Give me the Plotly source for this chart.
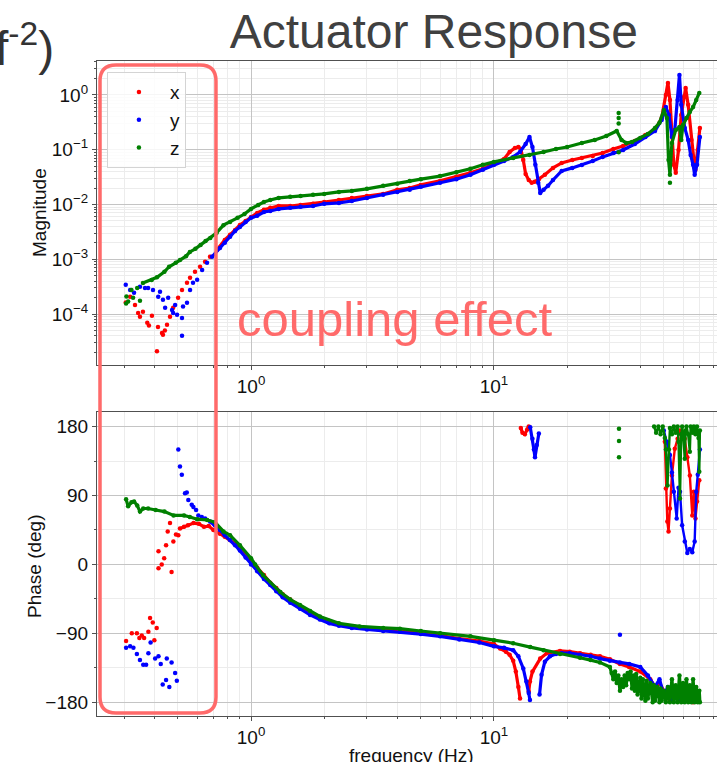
import plotly.graph_objects as go

# ---------------- magnitude: scattered low-frequency points ----------------
x_scatter_freq = [0.305, 0.318, 0.333, 0.343, 0.349, 0.359, 0.374, 0.380, 0.391, 0.410, 0.414,
                  0.430, 0.434, 0.442, 0.451, 0.464, 0.478, 0.501, 0.520, 0.545, 0.561, 0.588,
                  0.617, 0.647, 0.678]
x_scatter_mag = [1.62e-4, 2.06e-4, 1.47e-4, 1.05e-4, 8.9e-5, 1.10e-4, 6.9e-5, 6.2e-5, 9.3e-5, 2.1e-5,
                 5.8e-5, 4.5e-5, 4.2e-5, 5.0e-5, 6.4e-5, 8.9e-5, 1.30e-4, 1.98e-4, 2.76e-4, 3.71e-4,
                 4.58e-4, 5.89e-4, 7.27e-4, 8.97e-4, 1.11e-3]

y_scatter_freq = [0.305, 0.318, 0.330, 0.349, 0.366, 0.377, 0.395, 0.415, 0.422, 0.434, 0.443,
                  0.456, 0.473, 0.478, 0.487, 0.496, 0.520, 0.520, 0.525, 0.545, 0.561, 0.577,
                  0.600, 0.629, 0.659]
y_scatter_mag = [3.41e-4, 2.76e-4, 2.44e-4, 3.14e-4, 3.0e-4, 3.0e-4, 2.76e-4, 2.06e-4, 2.54e-4,
                 1.82e-4, 1.30e-4, 1.98e-4, 1.19e-4, 1.05e-4, 1.47e-4, 9.7e-5, 8.5e-5, 4.0e-5,
                 1.38e-4, 1.60e-4, 2.76e-4, 3.71e-4, 4.21e-4, 6.4e-4, 8.6e-4]

z_scatter_freq = [0.306, 0.307, 0.312, 0.322, 0.327, 0.340, 0.349, 32.6, 32.6, 32.6, 32.6, 53.0]
z_scatter_mag = [1.55e-4, 2.1e-4, 1.7e-4, 2.76e-4, 1.98e-4, 3.0e-4, 1.75e-4, 0.47, 0.38, 0.30, 0.09, 0.025]

# ---------------- magnitude: main response curves ----------------
x_freq = [0.725, 0.78, 0.82, 0.86, 0.90, 0.95, 1.0, 1.06, 1.13, 1.2, 1.3, 1.45, 1.6, 1.8, 2.0, 2.3,
          2.6, 3.0, 3.5, 4.0, 4.5, 5.0, 6.0, 7.0, 8.0, 9.0, 10, 11, 11.6, 12.2, 12.6, 12.9, 13.2,
          13.5, 13.9, 14.3, 14.7, 15.3, 16.2, 17.5, 19, 21, 23, 25.5, 28, 31, 34, 38, 42, 46, 49,
          51, 52, 53, 54, 55, 56, 57.5, 59, 60.5, 61.5, 63, 65, 66.5, 67.5, 69, 70.4]
x_mag = [1.49e-3, 2.26e-3, 2.79e-3, 3.44e-3, 4.24e-3, 5.0e-3, 5.9e-3, 7.0e-3, 8.0e-3, 8.7e-3,
         9.4e-3, 9.4e-3, 9.8e-3, 1.03e-2, 1.11e-2, 1.21e-2, 1.32e-2, 1.43e-2, 1.56e-2, 1.85e-2,
         2.0e-2, 2.28e-2, 2.7e-2, 3.2e-2, 3.8e-2, 4.5e-2, 5.5e-2, 6.8e-2, 9.1e-2, 0.108, 0.112,
         0.103, 0.065, 0.036, 0.028, 0.025, 0.026, 0.029, 0.035, 0.0466, 0.0574, 0.065, 0.071,
         0.077, 0.087, 0.103, 0.117, 0.145, 0.186, 0.23, 0.38, 1.0, 1.66, 0.81, 0.186, 0.053,
         0.038, 0.099, 0.43, 0.92, 1.34, 0.66, 0.151, 0.065, 0.043, 0.099, 0.25]

y_freq = [0.691, 0.745, 0.78, 0.82, 0.86, 0.90, 0.95, 1.0, 1.06, 1.13, 1.2, 1.3, 1.45, 1.6, 1.8,
          2.0, 2.3, 2.6, 3.0, 3.5, 4.0, 4.5, 5.0, 6.0, 7.0, 8.0, 9.0, 10, 11, 12, 12.8, 13.5, 14.0,
          14.4, 14.8, 15.2, 15.5, 16.0, 16.7, 17.5, 19, 21, 23, 25.5, 28, 31, 34, 38, 42, 46, 49,
          51, 52.5, 54, 55.5, 57, 58, 59, 61, 63, 64.5, 66, 67, 68.5, 70.4]
y_mag = [1.11e-3, 1.6e-3, 2.0e-3, 2.58e-3, 3.3e-3, 3.9e-3, 4.8e-3, 5.7e-3, 6.2e-3, 7.3e-3, 7.6e-3,
         8.3e-3, 8.7e-3, 9.1e-3, 9.4e-3, 1.03e-2, 1.07e-2, 1.16e-2, 1.32e-2, 1.50e-2, 1.70e-2,
         1.85e-2, 2.1e-2, 2.5e-2, 2.9e-2, 3.5e-2, 4.3e-2, 5.3e-2, 6.2e-2, 7.4e-2, 9.1e-2, 0.127,
         0.171, 0.112, 0.053, 0.025, 0.0163, 0.0185, 0.022, 0.028, 0.041, 0.0466, 0.0528, 0.0625,
         0.074, 0.087, 0.099, 0.127, 0.171, 0.22, 0.35, 0.60, 0.43, 0.171, 0.23, 0.81, 2.32, 0.66,
         0.25, 0.151, 0.080, 0.053, 0.035, 0.053, 0.171]

z_freq = [0.359, 0.39, 0.41, 0.44, 0.46, 0.49, 0.51, 0.54, 0.56, 0.59, 0.62, 0.65, 0.68, 0.72,
          0.77, 0.82, 0.88, 0.94, 1.0, 1.07, 1.13, 1.2, 1.3, 1.45, 1.6, 1.8, 2.0, 2.3, 2.6, 3.0,
          3.5, 4.0, 4.5, 5.0, 6.0, 7.0, 8.0, 9.0, 10, 12, 14, 16, 18, 20, 23, 26, 29, 32, 33.5, 35,
          37, 40, 43, 46, 48, 50, 51.5, 52.3, 53, 54, 56, 58, 59, 60, 62, 64, 66, 68, 70]
z_mag = [3.7e-4, 4.2e-4, 4.7e-4, 5.9e-4, 7.3e-4, 8.6e-4, 9.7e-4, 1.14e-3, 1.36e-3, 1.55e-3,
         1.83e-3, 2.15e-3, 2.45e-3, 3.0e-3, 4.2e-3, 4.8e-3, 5.7e-3, 6.7e-3, 8.3e-3, 9.8e-3,
         1.11e-2, 1.21e-2, 1.32e-2, 1.38e-2, 1.43e-2, 1.50e-2, 1.56e-2, 1.70e-2, 1.77e-2, 1.93e-2,
         2.2e-2, 2.4e-2, 2.7e-2, 2.9e-2, 3.3e-2, 3.9e-2, 4.5e-2, 5.3e-2, 6.0e-2, 7.1e-2, 8.0e-2,
         9.1e-2, 0.103, 0.112, 0.133, 0.151, 0.178, 0.22, 0.151, 0.133, 0.139, 0.164, 0.194, 0.25,
         0.31, 0.53, 0.38, 0.065, 0.035, 0.133, 0.23, 0.26, 0.151, 0.284, 0.38, 0.49, 0.60, 0.81,
         1.09]

# ---------------- phase: scattered low-frequency points ----------------
x_scatter_pfreq = [0.306, 0.323, 0.339, 0.347, 0.355, 0.363, 0.378, 0.384, 0.394, 0.400, 0.409,
                   0.416, 0.416, 0.429, 0.439, 0.447, 0.454, 0.464, 0.471, 0.479, 0.491, 0.502]
x_scatter_phase = [-100, -90, -90, -96, -93, -96, -88, -70, -76, -99, -83,
                   -5, 17, 0, 8, 25, 43, 54, -10, 30, 39, 38]

y_scatter_pfreq = [0.306, 0.318, 0.328, 0.339, 0.349, 0.360, 0.370, 0.378, 0.386, 0.403, 0.416,
                   0.425, 0.433, 0.447, 0.450, 0.461, 0.471, 0.487, 0.495, 0.502, 0.510, 0.519,
                   0.535, 0.544, 0.552, 0.570, 0.579, 0.594, 0.607, 0.627, 0.647, 33.0]
y_scatter_phase = [-109, -107, -109, -117, -125, -131, -131, -116, -102, -123, -120,
                   -130, -157, -151, -123, -160, -128, -142, -152, 150, 128, 117,
                   93, 94, 84, 78, 75, 71, 64, 62, 60, -92]

z_scatter_pfreq = [32.7, 32.7, 32.7]
z_scatter_phase = [177, 161, 140]

# ---------------- phase: main curves (None marks a wrap at +-180) ----------------
x_pfreq = [0.51, 0.53, 0.55, 0.58, 0.61, 0.64, 0.67, 0.70, 0.745, 0.78, 0.82, 0.86, 0.9, 0.95,
           1.0, 1.06, 1.13, 1.2, 1.27, 1.35, 1.45, 1.59, 1.75, 1.92, 2.1, 2.3, 2.6, 3.0, 3.5,
           4.1, 5.0, 6.0, 7.2, 8.7, 10, 10.6, 11.2, 11.6, 12.0, 12.3, 12.6, 12.8, None,
           12.9, 13.1, 13.4, 13.7, 13.9, None, 13.9, 14.06, 14.4, 15.5, 16.5, 18.7, 20.5,
           22.6, 25, 27.3, 30, 33, 36, 40, 44, 46, 48, 50, 52, 54, 56, 58, 60, 62, 64, 66]
x_phase = [47, 49, 51, 54, 53, 49, 50, 45, 40, 36, 32, 27, 21, 13,
           4, -4, -14, -24, -31, -39, -46, -54, -62, -69, -74, -78, -82, -84, -86,
           -87, -90, -93, -97, -100, -104, -110, -114, -118, -126, -140, -160, -175, None,
           178, 172, 170, 176, 180, None, -166, -153, -140, -123, -116, -113, -114,
           -116, -118, -120, -124, -130, -134, -140, -150, -160, -155, -166, -175, -160,
           -170, -178, -165, -178, -170, -180]

y_pfreq = [0.678, 0.71, 0.745, 0.78, 0.82, 0.86, 0.9, 0.95, 1.0, 1.06, 1.13, 1.2, 1.27, 1.35,
           1.45, 1.59, 1.75, 1.92, 2.1, 2.3, 2.6, 3.0, 3.5, 4.1, 5.0, 6.0, 7.2, 8.7, 10, 11, 12,
           12.6, 13.2, 13.6, 13.9, 14.06, None, 14.1, 14.4, 14.6, 14.75, 15.0, 15.3, None,
           15.4, 15.7, 16.2, 17, 18, 19, 20.5, 22.6, 25, 27.3, 30, 33, 36, 40, 43, 46, 48, 50,
           52, 54, 56, 58, 60, 63, 65, 68]
y_phase = [56, 51, 45, 38, 32, 25, 18, 9, 0, -9, -19, -27, -35, -43,
           -50, -58, -66, -72, -77, -80, -83, -85, -87, -88, -91, -94, -98, -102, -107, -109,
           -112, -120, -136, -153, -168, -177, None, 179, 164, 150, 140, 156, 171, None,
           -170, -144, -127, -120, -117, -116, -116, -118, -120, -123, -126, -128, -130, -134,
           -145, -160, -150, -170, -160, -178, -165, -175, -160, -178, -168, -178]

z_pfreq = [0.306, 0.312, 0.322, 0.33, 0.34, 0.349, 0.36, 0.377, 0.405, 0.44, 0.48, 0.53, 0.56,
           0.60, 0.66, 0.71, 0.77, 0.82, 0.90, 1.0, 1.04, 1.12, 1.32, 1.45, 1.59, 1.75, 1.92, 2.3,
           2.8, 3.5, 4.1, 5.0, 6.0, 8, 10, 12, 14.1, 16, 18.7, 22.6, 25, 27.3, 30, 30.5, 31, 31.5,
           32, 32.5, 33, 33.5, 34, 34.5, 35, 35.5, 36, 36.5, 37, 37.5, 38, 38.5, 39, 40, 40.5,
           41, 42, 42.5, 43, 44, 45, 45.5, 46, 47, 48, 48.5, 49, 50, 51, 52, 53, 54, 55, 56, 57,
           58, 59, 60, 61, 62, 63, 64, 65, 66, 67, 68, 69, 70, 70.4]
z_phase = [85, 76, 81, 82, 77, 69, 73, 73, 71, 69, 64, 64, 62,
           59, 58, 55, 43, 38, 25, 8, 0, -14, -36, -46, -53, -61, -68, -77,
           -81, -83, -84, -87, -90, -94, -99, -103, -108, -112, -117, -122, -125, -128, -134,
           -142, -150, -140, -155, -145, -165, -150, -160, -145, -158, -142, -150, -140, -162,
           -145, -165, -143, -170, -148, -175, -150, -178, -152, -175, -155, -180, -158, -178,
           -160, -180, -162, -178, -165, -180, -160, -180, -150, -180, -158, -180, -145, -180,
           -155, -180, -150, -180, -158, -180, -150, -180, -160, -180, -165, -180]

# wrapped high-frequency phase near +180
x_top_freq = [50.5, 51, 51.7, 52.3, 53, 54, 55.5, 57, 58.3, 60, 61, 62.5, 64, 65.5, 66.5, 67.5,
              68.5, 70]
x_top_phase = [160, 99, 56, 43, 73, 116, 151, 164, 175, 168, 164, 140, 116, 64, 95, 60, 82, 110]

y_top_freq = [50, 51.5, 53, 54, 55, 56.5, 57.5, 58.3, 59.5, 61, 62.5, 64, 65.5, 67, 68, 69, 70.4]
y_top_phase = [175, 160, 143, 120, 95, 60, 100, 95, 51, 30, 15, 20, 16, 30, 95, 117, 150]

z_top_freq = [45.6, 46.5, 47.5, 48.5, 49.5, 50.5, 51, 51.8, 52.5, 53, 54, 55, 56, 57, 57.5, 58.3,
              59, 59.5, 60, 61, 61.5, 62, 63, 64, 64.5, 65.5, 66.5, 67.5, 68.5, 69.5, 70, 70.4]
z_top_phase = [180, 172, 180, 170, 180, 165, 150, 103, 150, 178, 170, 180, 172, 180, 160, 86,
               170, 180, 172, 138, 175, 180, 170, 147, 180, 172, 180, 170, 180, 165, 121, 175]

# ---------------- axis ticks ----------------
freq_ticks = [1, 10]
freq_ticktext = ["10<sup>0</sup>", "10<sup>1</sup>"]
mag_ticks = [1e-4, 1e-3, 1e-2, 1e-1, 1]
mag_ticktext = ["10<sup>\u22124</sup>", "10<sup>\u22123</sup>", "10<sup>\u22122</sup>",
                "10<sup>\u22121</sup>", "10<sup>0</sup>"]
phase_ticks = [-180, -90, 0, 90, 180]
phase_ticktext = ["\u2212180", "\u221290", "0", "90", "180"]

freq_minor = [m * d for d in (0.1, 1, 10) for m in range(2, 10)]
mag_minor = [m * d for d in (1e-5, 1e-4, 1e-3, 1e-2, 1e-1, 1) for m in range(2, 10)]
phase_minor = [-135, -45, 45, 135]

RED, BLUE, GREEN = "#ff0000", "#0000ff", "#008000"
FONT = "Liberation Sans, Arial, Helvetica, sans-serif"
MS = 4.5
LW = 3.2

fig = go.Figure()


def add_series(name, color, sc_f, sc_m, f, m, sc_pf, sc_p, pf, p, top_f, top_p):
    mk = dict(color=color, size=MS)
    fig.add_trace(go.Scatter(x=sc_f, y=sc_m, mode="markers", name=name, marker=mk,
                             legendgroup=name, xaxis="x", yaxis="y"))
    fig.add_trace(go.Scatter(x=f, y=m, mode="lines+markers", marker=mk,
                             line=dict(color=color, width=LW), showlegend=False,
                             legendgroup=name, xaxis="x", yaxis="y"))
    fig.add_trace(go.Scatter(x=sc_pf, y=sc_p, mode="markers", marker=mk, showlegend=False,
                             legendgroup=name, xaxis="x2", yaxis="y2"))
    fig.add_trace(go.Scatter(x=pf, y=p, mode="lines+markers", marker=mk, connectgaps=False,
                             line=dict(color=color, width=LW), showlegend=False,
                             legendgroup=name, xaxis="x2", yaxis="y2"))
    fig.add_trace(go.Scatter(x=top_f, y=top_p, mode="lines+markers", marker=mk,
                             line=dict(color=color, width=LW - 0.8), showlegend=False,
                             legendgroup=name, xaxis="x2", yaxis="y2"))


add_series("x", RED, x_scatter_freq, x_scatter_mag, x_freq, x_mag,
           x_scatter_pfreq, x_scatter_phase, x_pfreq, x_phase, x_top_freq, x_top_phase)
add_series("y", BLUE, y_scatter_freq, y_scatter_mag, y_freq, y_mag,
           y_scatter_pfreq, y_scatter_phase, y_pfreq, y_phase, y_top_freq, y_top_phase)
add_series("z", GREEN, z_scatter_freq, z_scatter_mag, z_freq, z_mag,
           z_scatter_pfreq, z_scatter_phase, z_pfreq, z_phase, z_top_freq, z_top_phase)

GRID = "#c4c4c4"
MINOR_GRID = "#ececec"
SPINE = "#505050"
tickfont = dict(family=FONT, size=19, color="#111")

common_x = dict(type="log", range=[-0.634, 1.918], tickvals=freq_ticks, ticktext=freq_ticktext,
                showgrid=True, gridcolor=GRID, gridwidth=1, zeroline=False,
                showline=True, linecolor=SPINE, linewidth=1.2, mirror=True,
                ticks="outside", ticklen=4, tickcolor=SPINE, tickfont=tickfont,
                minor=dict(tickvals=freq_minor, showgrid=True, gridcolor=MINOR_GRID,
                           gridwidth=1, ticks="outside", ticklen=2, tickcolor=SPINE))

fig.update_layout(
    width=717, height=762,
    margin=dict(l=97, r=0, t=61, b=46),
    paper_bgcolor="white", plot_bgcolor="white",
    font=dict(family=FONT, color="#111"),
    title=dict(text="Actuator Response", x=0.605, y=0.959, xref="container", yref="container",
               xanchor="center", yanchor="middle",
               font=dict(family=FONT, size=48, color="#404040")),
    xaxis=dict(domain=[0, 1], anchor="y", **common_x),
    xaxis2=dict(domain=[0, 1], anchor="y2", **common_x),
    yaxis=dict(domain=[0.5359, 1], anchor="x", type="log", range=[-4.93, 0.62],
               tickvals=mag_ticks, ticktext=mag_ticktext,
               showgrid=True, gridcolor=GRID, gridwidth=1, zeroline=False,
               showline=True, linecolor=SPINE, linewidth=1.2, mirror=True,
               ticks="outside", ticklen=4, tickcolor=SPINE, tickfont=tickfont,
               minor=dict(tickvals=mag_minor, showgrid=True, gridcolor=MINOR_GRID,
                          gridwidth=1, ticks="outside", ticklen=2, tickcolor=SPINE)),
    yaxis2=dict(domain=[0, 0.4641], anchor="x2", range=[-198, 199],
                tickvals=phase_ticks, ticktext=phase_ticktext,
                showgrid=True, gridcolor=GRID, gridwidth=1, zeroline=False,
                showline=True, linecolor=SPINE, linewidth=1.2, mirror=True,
                ticks="outside", ticklen=4, tickcolor=SPINE, tickfont=tickfont,
                minor=dict(tickvals=phase_minor, showgrid=True, gridcolor=MINOR_GRID,
                           gridwidth=1, ticks="outside", ticklen=2, tickcolor=SPINE)),
    legend=dict(x=0.016, y=0.983, xanchor="left", yanchor="top",
                bgcolor="rgba(255,255,255,0.85)", bordercolor="#d4d4d4", borderwidth=1,
                font=dict(family=FONT, size=19, color="#111"), itemwidth=52,
                tracegroupgap=0),
    showlegend=True,
)

# axis titles and labels
fig.add_annotation(text="Magnitude", x=-0.0919, y=0.768, xref="paper", yref="paper",
                   textangle=-90, showarrow=False, xanchor="center", yanchor="middle",
                   font=dict(family=FONT, size=19, color="#111"))
fig.add_annotation(text="Phase (deg)", x=-0.1016, y=0.229, xref="paper", yref="paper",
                   textangle=-90, showarrow=False, xanchor="center", yanchor="middle",
                   font=dict(family=FONT, size=19, color="#111"))
fig.add_annotation(text="frequency (Hz)", x=0.508, y=-0.060, xref="paper", yref="paper",
                   showarrow=False, xanchor="center", yanchor="middle",
                   font=dict(family=FONT, size=19, color="#111"))
fig.add_annotation(text="(f<sup>-2</sup>)", x=-0.0660, y=1.0244, xref="paper", yref="paper",
                   showarrow=False, xanchor="right", yanchor="middle",
                   font=dict(family=FONT, size=48, color="#333"))

# highlighted low-frequency region
HL = "#ff6a6a"
x0, x1 = 0.00484, 0.1919
y0, y1 = 0.00458, 0.99389
rx, ry = 0.0258, 0.0244
path = (f"M {x0 + rx},{y1} L {x1 - rx},{y1} Q {x1},{y1} {x1},{y1 - ry} "
        f"L {x1},{y0 + ry} Q {x1},{y0} {x1 - rx},{y0} L {x0 + rx},{y0} "
        f"Q {x0},{y0} {x0},{y0 + ry} L {x0},{y1 - ry} Q {x0},{y1} {x0 + rx},{y1} Z")
fig.add_shape(type="path", path=path, xref="paper", yref="paper",
              line=dict(color=HL, width=3.5), layer="above")
fig.add_annotation(text="coupling effect", x=0.4798, y=0.6060, xref="paper", yref="paper",
                   showarrow=False, xanchor="center", yanchor="middle",
                   font=dict(family=FONT, size=49, color=HL))

fig.write_html("out.html")
